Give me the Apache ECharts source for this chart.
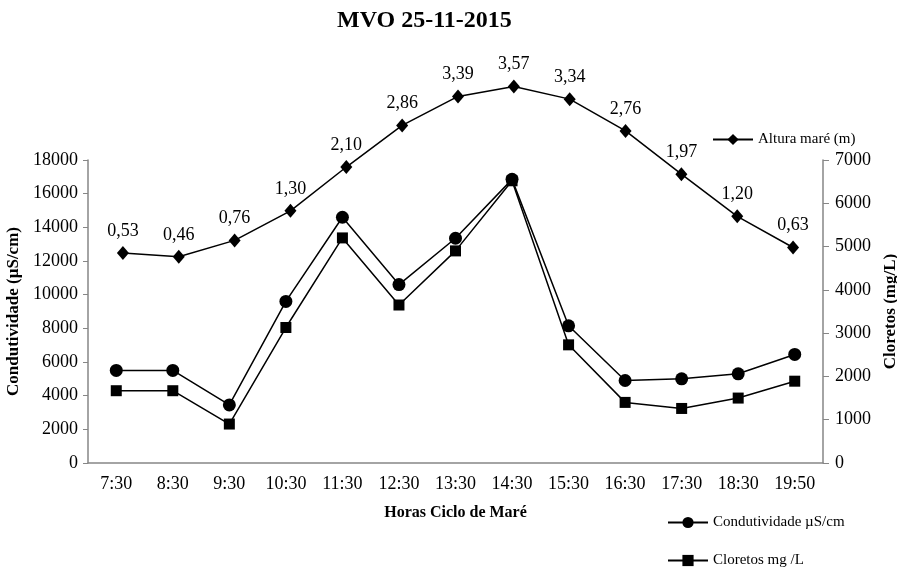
<!DOCTYPE html>
<html><head><meta charset="utf-8">
<script src="https://cdn.jsdelivr.net/npm/echarts@6/dist/echarts.min.js"></script>
<style>html,body{margin:0;padding:0;background:#fff}#c{width:897px;height:567px}</style>
</head><body><div id="c"></div>
<script>
const categories = ['7:30','8:30','9:30','10:30','11:30','12:30','13:30','14:30','15:30','16:30','17:30','18:30','19:50'];
const altura = [0.53,0.46,0.76,1.30,2.10,2.86,3.39,3.57,3.34,2.76,1.97,1.20,0.63];
const condutividade = [5500,5500,3450,9600,14600,10600,13350,16850,8150,4900,5000,5300,6450];
const cloretos = [1670,1670,900,3130,5200,3650,4900,6520,2730,1400,1260,1500,1890];

const F = 'Liberation Serif';
const axisCol = '#868686';
const plain = v => String(v);
const chart = echarts.init(document.getElementById('c'));
chart.setOption({
  animation:false,
  textStyle:{fontFamily:F,color:'#000'},
  title:{text:'MVO 25-11-2015',left:332,top:4,textStyle:{fontFamily:F,fontSize:24,fontWeight:'bold',color:'#000'}},
  legend:[
    {data:['Altura maré (m)'],left:707,top:127,itemWidth:40,itemHeight:14,itemGap:5,textStyle:{fontFamily:F,fontSize:15,color:'#000'}},
    {data:['Condutividade µS/cm'],left:662,top:510,itemWidth:40,itemHeight:14,textStyle:{fontFamily:F,fontSize:15,color:'#000'}},
    {data:['Cloretos mg /L'],left:662,top:548,itemWidth:40,itemHeight:14,textStyle:{fontFamily:F,fontSize:15,color:'#000'}}
  ],
  grid:[
    {left:88,right:74,top:160,bottom:104,containLabel:false,outerBoundsMode:'none'},
    {left:95,right:76,top:63,bottom:285,containLabel:false,outerBoundsMode:'none'}
  ],
  xAxis:[
    {type:'category',gridIndex:0,data:categories,boundaryGap:true,
     name:'Horas Ciclo de Maré',nameLocation:'middle',nameGap:42,
     nameTextStyle:{fontFamily:F,fontSize:16,fontWeight:'bold',color:'#000'},
     axisLine:{lineStyle:{color:axisCol,width:1.5}},axisTick:{alignWithLabel:false,length:5,lineStyle:{color:axisCol}},
     axisLabel:{fontFamily:F,fontSize:18,color:'#000',margin:12,interval:0}},
    {type:'category',gridIndex:1,data:categories,boundaryGap:true,show:false}
  ],
  yAxis:[
    {type:'value',gridIndex:0,min:0,max:18000,interval:2000,position:'left',
     name:'Condutividade (µS/cm)',nameLocation:'middle',nameGap:62,nameRotate:90,
     nameTextStyle:{fontFamily:F,fontSize:17,fontWeight:'bold',color:'#000'},
     axisLine:{show:true,lineStyle:{color:axisCol,width:1.5}},axisTick:{show:true,length:5,lineStyle:{color:axisCol}},
     splitLine:{show:false},axisLabel:{fontFamily:F,fontSize:18,color:'#000',margin:10,formatter:plain}},
    {type:'value',gridIndex:0,min:0,max:7000,interval:1000,position:'right',
     name:'Cloretos (mg/L)',nameLocation:'middle',nameGap:56,nameRotate:90,
     nameTextStyle:{fontFamily:F,fontSize:17,fontWeight:'bold',color:'#000'},
     axisLine:{show:true,lineStyle:{color:axisCol,width:1.5}},axisTick:{show:true,length:6,lineStyle:{color:axisCol}},
     splitLine:{show:false},axisLabel:{fontFamily:F,fontSize:18,color:'#000',margin:12,formatter:plain}},
    {type:'value',gridIndex:1,min:0,max:4,show:false,splitLine:{show:false}}
  ],
  series:[
    {name:'Cloretos mg /L',type:'line',xAxisIndex:0,yAxisIndex:1,data:cloretos,
     symbol:'rect',symbolSize:11,showAllSymbol:true,
     itemStyle:{color:'#000'},lineStyle:{color:'#000',width:1.5}},
    {name:'Condutividade µS/cm',type:'line',xAxisIndex:0,yAxisIndex:0,data:condutividade,
     symbol:'circle',symbolSize:13,showAllSymbol:true,
     itemStyle:{color:'#000'},lineStyle:{color:'#000',width:1.5}},
    {name:'Altura maré (m)',type:'line',xAxisIndex:1,yAxisIndex:2,data:altura,
     symbol:'diamond',symbolSize:[12,14],showAllSymbol:true,clip:false,
     itemStyle:{color:'#000'},lineStyle:{color:'#000',width:1.5},
     label:{show:true,position:'top',distance:6,fontFamily:F,fontSize:18,color:'#000',
       formatter:p=>p.value.toFixed(2).replace('.',',')}}
  ]
});
</script></body></html>
